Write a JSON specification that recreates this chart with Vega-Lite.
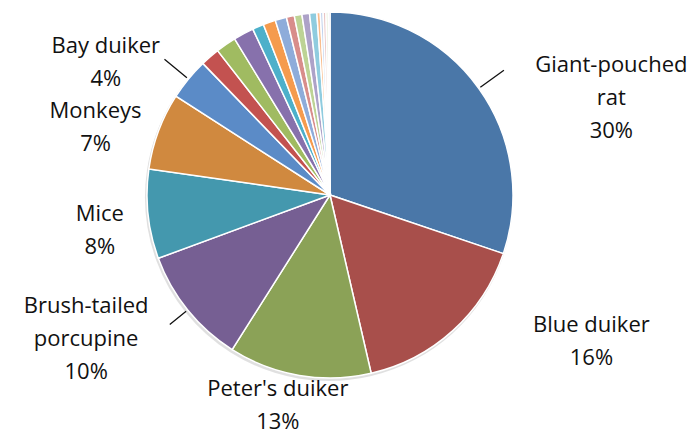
{
  "$schema": "https://vega.github.io/schema/vega-lite/v6.json",
  "width": 660,
  "height": 390,
  "autosize": "none",
  "padding": {"left": 0, "top": 0, "right": 39, "bottom": 44},
  "background": "white",
  "config": {"view": {"stroke": null}},
  "data": {
    "values": [
      {"id": 1, "name": "Giant-pouched rat", "value": 30.2, "label": "Giant-pouched\nrat\n30%"},
      {"id": 2, "name": "Blue duiker", "value": 16.2, "label": "Blue duiker\n16%"},
      {"id": 3, "name": "Peter's duiker", "value": 12.6, "label": "Peter's duiker\n13%"},
      {"id": 4, "name": "Brush-tailed porcupine", "value": 10.4, "label": "Brush-tailed\nporcupine\n10%"},
      {"id": 5, "name": "Mice", "value": 7.9, "label": "Mice\n8%"},
      {"id": 6, "name": "Monkeys", "value": 6.8, "label": "Monkeys\n7%"},
      {"id": 7, "name": "Bay duiker", "value": 3.7, "label": "Bay duiker\n4%"},
      {"id": 8, "name": "Other 1", "value": 1.7, "label": ""},
      {"id": 9, "name": "Other 2", "value": 1.8, "label": ""},
      {"id": 10, "name": "Other 3", "value": 1.8, "label": ""},
      {"id": 11, "name": "Other 4", "value": 1.0, "label": ""},
      {"id": 12, "name": "Other 5", "value": 1.1, "label": ""},
      {"id": 13, "name": "Other 6", "value": 1.0, "label": ""},
      {"id": 14, "name": "Other 7", "value": 0.7, "label": ""},
      {"id": 15, "name": "Other 8", "value": 0.67, "label": ""},
      {"id": 16, "name": "Other 9", "value": 0.67, "label": ""},
      {"id": 17, "name": "Other 10", "value": 0.64, "label": ""},
      {"id": 18, "name": "Other 11", "value": 0.3, "label": ""},
      {"id": 19, "name": "Other 12", "value": 0.25, "label": ""},
      {"id": 20, "name": "Other 13", "value": 0.25, "label": ""},
      {"id": 21, "name": "Other 14", "value": 0.2, "label": ""},
      {"id": 22, "name": "Other 15", "value": 0.15, "label": ""}
    ]
  },
  "encoding": {
    "theta": {"field": "value", "type": "quantitative", "stack": true},
    "order": {"field": "id", "type": "quantitative"}
  },
  "layer": [
    {
      "mark": {"type": "arc", "outerRadius": 184, "fill": "#000000", "opacity": 0.12, "yOffset": 2, "xOffset": -1, "stroke": null},
      "encoding": {}
    },
    {
      "mark": {"type": "arc", "outerRadius": 183, "stroke": "white", "strokeWidth": 1.5},
      "encoding": {
        "color": {
          "field": "name",
          "type": "nominal",
          "legend": null,
          "sort": null,
          "scale": {
            "domain": ["Giant-pouched rat", "Blue duiker", "Peter's duiker", "Brush-tailed porcupine", "Mice", "Monkeys", "Bay duiker", "Other 1", "Other 2", "Other 3", "Other 4", "Other 5", "Other 6", "Other 7", "Other 8", "Other 9", "Other 10", "Other 11", "Other 12", "Other 13", "Other 14", "Other 15"],
            "range": ["#4A77A8", "#A84F4B", "#8BA257", "#765F93", "#4498AE", "#D0893F", "#5B8BC7", "#C35250", "#A0BB61", "#8771AC", "#4DB0CA", "#F59B4E", "#8EACDA", "#D88D8B", "#BDD395", "#ADA2C8", "#8FCCDF", "#F9BD8D", "#C3D3EC", "#E8C4C3", "#DCE8C8", "#D5CEE3"]
          }
        }
      }
    },
    {
      "transform": [
        {"stack": "value", "groupby": [], "sort": [{"field": "id", "order": "ascending"}], "as": ["v0", "v1"]},
        {"filter": "datum.name === 'Giant-pouched rat' || datum.name === 'Bay duiker' || datum.name === 'Brush-tailed porcupine'"}
      ],
      "mark": {
        "type": "arc",
        "fill": null,
        "stroke": "#111111",
        "strokeWidth": 1.3,
        "innerRadius": 185,
        "outerRadius": {"expr": "datum.name === 'Brush-tailed porcupine' ? 206 : 214"},
        "thetaOffset": {"expr": "PI * datum.value / 100"},
        "theta2Offset": {"expr": "PI * datum.value / 100"}
      },
      "encoding": {
        "theta": {"field": "v0", "type": "quantitative"},
        "theta2": {"field": "v0"},
        "order": null
      }
    },
    {
      "mark": {
        "type": "text",
        "font": "Open Sans",
        "fontSize": 22,
        "color": "#111111",
        "lineBreak": "\n",
        "lineHeight": 33,
        "align": "center",
        "baseline": "middle",
        "radius": {"expr": "datum.name === 'Giant-pouched rat' ? 310 : datum.name === 'Blue duiker' ? 292 : datum.name === \"Peter's duiker\" ? 201 : datum.name === 'Brush-tailed porcupine' ? 268 : datum.name === 'Mice' ? 231 : datum.name === 'Monkeys' ? 249 : 269"},
        "thetaOffset": {"expr": "datum.name === 'Giant-pouched rat' ? 0.189 : datum.name === 'Blue duiker' ? -0.373 : datum.name === \"Peter's duiker\" ? 0.094 : datum.name === 'Brush-tailed porcupine' ? 0.252 : datum.name === 'Mice' ? 0.024 : datum.name === 'Monkeys' ? -0.013 : datum.name === 'Bay duiker' ? -0.101 : 0"}
      },
      "encoding": {
        "text": {"field": "label", "type": "nominal"}
      }
    }
  ]
}
